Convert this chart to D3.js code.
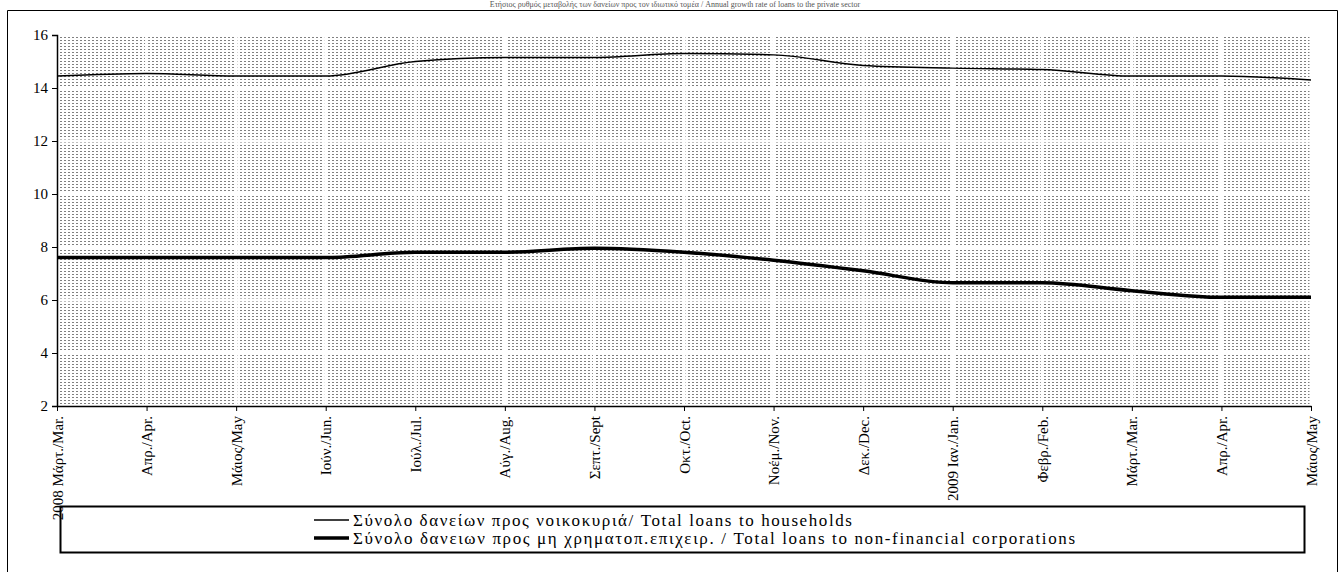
<!DOCTYPE html>
<html>
<head>
<meta charset="utf-8">
<script src="https://cdn.jsdelivr.net/npm/d3@7"></script>
<style>
  html, body { margin: 0; padding: 0; background: #fff; }
  svg { display: block; }
</style>
</head>
<body>
<svg id="chart" width="1339" height="572"></svg>
<script>
const FONT = "'Liberation Serif', 'Times New Roman', serif";
const TITLE = "Ετήσιος ρυθμός μεταβολής των δανείων προς τον ιδιωτικό τομέα / Annual growth rate of loans to the private sector";

const months = [
  "2008 Μάρτ./Mar.", "Απρ./Apr.", "Μάιος/May", "Ιούν./Jun.", "Ιούλ./Jul.",
  "Αύγ./Aug.", "Σεπτ./Sept", "Οκτ./Oct.", "Νοέμ./Nov.", "Δεκ./Dec.",
  "2009 Ιαν./Jan.", "Φεβρ./Feb.", "Μάρτ./Mar.", "Απρ./Apr.", "Μάιος/May"
];

const households = [14.45, 14.55, 14.45, 14.45, 15.0, 15.15, 15.15, 15.3, 15.25, 14.85, 14.75, 14.7, 14.45, 14.45, 14.3];
const corporations = [7.6, 7.6, 7.6, 7.6, 7.8, 7.8, 7.95, 7.8, 7.5, 7.1, 6.65, 6.65, 6.35, 6.1, 6.1];

const yTicks = [2, 4, 6, 8, 10, 12, 14, 16];

const seriesNames = [
  "Σύνολο δανείων προς νοικοκυριά/ Total loans to households",
  "Σύνολο δανειων προς μη χρηματοπ.επιχειρ. / Total loans to non-financial corporations"
];

const svg = d3.select("#chart").style("font-family", FONT);
const plot = { left: 57, right: 1311, top: 35, bottom: 406 };

// outer frame
svg.append("path")
  .attr("d", "M7.5,572 V10.5 H1337.5 V572")
  .attr("fill", "none")
  .attr("stroke", "#000")
  .attr("stroke-width", 1);

// title, tiny and pale at the very top
svg.append("text")
  .attr("x", 675)
  .attr("y", 7)
  .attr("text-anchor", "middle")
  .attr("font-size", 8)
  .attr("fill", "#555")
  .text(TITLE);

const x = d3.scalePoint().domain(d3.range(months.length)).range([plot.left, plot.right]);
const y = d3.scaleLinear().domain([2, 16]).range([plot.bottom, plot.top]);

// stipple background
const defs = svg.append("defs");
const pat = defs.append("pattern")
  .attr("id", "dots")
  .attr("patternUnits", "userSpaceOnUse")
  .attr("width", 4)
  .attr("height", 3);
pat.append("rect").attr("x", 0).attr("y", 1).attr("width", 2).attr("height", 1).attr("fill", "#808080");

svg.append("rect")
  .attr("x", plot.left)
  .attr("y", y(16))
  .attr("width", plot.right - plot.left)
  .attr("height", y(2) - y(16))
  .attr("fill", "url(#dots)");

// white gridlines
svg.append("g")
  .selectAll("line")
  .data(yTicks)
  .join("line")
  .attr("x1", plot.left)
  .attr("x2", plot.right)
  .attr("y1", (d) => y(d))
  .attr("y2", (d) => y(d))
  .attr("stroke", "#fff")
  .attr("stroke-width", 3);

svg.append("g")
  .selectAll("line")
  .data(d3.range(months.length))
  .join("line")
  .attr("x1", (d) => x(d))
  .attr("x2", (d) => x(d))
  .attr("y1", y(16))
  .attr("y2", y(2))
  .attr("stroke", "#fff")
  .attr("stroke-width", 3);

// legend box (drawn before the axis labels, which run over it)
const lg = svg.append("g");
lg.append("rect")
  .attr("x", 60.5)
  .attr("y", 506.5)
  .attr("width", 1244)
  .attr("height", 46)
  .attr("fill", "none")
  .attr("stroke", "#000")
  .attr("stroke-width", 2);

const legendRows = [
  { name: seriesNames[0], width: 1.5, y: 520, len: 499 },
  { name: seriesNames[1], width: 3.5, y: 538, len: 722 },
];
legendRows.forEach((r) => {
  lg.append("line")
    .attr("x1", 314)
    .attr("x2", 349)
    .attr("y1", r.y)
    .attr("y2", r.y)
    .attr("stroke", "#000")
    .attr("stroke-width", r.width);
  const t = lg.append("text")
    .attr("x", 353)
    .attr("y", r.y + 5.5)
    .attr("font-family", "Liberation Serif")
    .attr("font-size", 17)
    .text(r.name);
  // stretch to the reference width with letter spacing
  const natural = t.node().getComputedTextLength();
  const extra = (r.len - natural) / (r.name.length - 1);
  t.attr("letter-spacing", extra.toFixed(2));
});

// axes
const yAxis = svg.append("g")
  .attr("transform", `translate(${plot.left},0)`)
  .call(d3.axisLeft(y).tickValues(yTicks).tickSize(5).tickPadding(4));
yAxis.select(".domain").attr("stroke-width", 1.5);
yAxis.selectAll("text")
  .style("font-family", FONT)
  .attr("font-size", 15)
  .attr("fill", "#000");

const xAxis = svg.append("g")
  .attr("transform", `translate(0,${plot.bottom})`)
  .call(d3.axisBottom(x).tickSize(5).tickSizeOuter(0).tickFormat((i) => months[i]));
xAxis.select(".domain").attr("stroke-width", 1.5);
xAxis.selectAll("text")
  .style("font-family", FONT)
  .attr("font-size", 15)
  .attr("fill", "#000")
  .attr("transform", "rotate(-90)")
  .attr("text-anchor", "end")
  .attr("dominant-baseline", "central")
  .attr("x", -10)
  .attr("y", 0)
  .attr("dy", null);

// lines
const line = d3.line()
  .x((d, i) => x(i))
  .y((d) => y(d))
  .curve(d3.curveMonotoneX);

svg.append("path")
  .datum(households)
  .attr("fill", "none")
  .attr("stroke", "#000")
  .attr("stroke-width", 1.5)
  .attr("d", line);

svg.append("path")
  .datum(corporations)
  .attr("fill", "none")
  .attr("stroke", "#000")
  .attr("stroke-width", 3.5)
  .attr("d", line);
</script>
</body>
</html>
